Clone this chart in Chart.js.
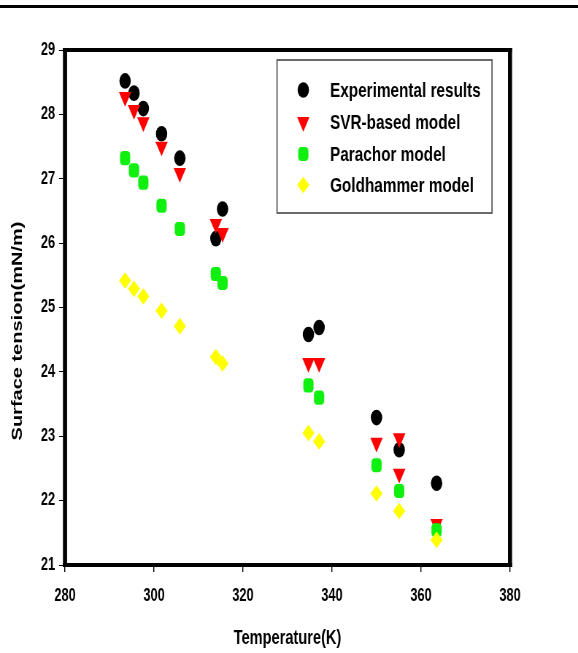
<!DOCTYPE html>
<html>
<head>
<meta charset="utf-8">
<script src="https://cdn.jsdelivr.net/npm/chart.js@4.4.1/dist/chart.umd.min.js"></script>
<style>
html, body { margin: 0; padding: 0; background: #ffffff; overflow: hidden; }
#wrap { position: absolute; left: 0; top: 0; width: 792px; height: 653px;
        transform: scaleX(0.72980); transform-origin: 0 0; }
</style>
</head>
<body>
<div id="wrap"><canvas id="c"></canvas></div>
<script>
// ---- data ----
const temperatures    = [293.5, 295.5, 297.6, 301.7, 305.8, 313.9, 315.4, 334.7, 337.1, 350.0, 355.1, 355.1, 363.5];
const experimental    = [28.52, 28.33, 28.09, 27.70, 27.32, 26.07, 26.53, 24.58, 24.69, 23.29, 22.79, null, 22.27];
const svrModel        = [28.27, 28.07, 27.88, 27.50, 27.09, 26.30, 26.16, 24.14, 24.14, 22.90, 22.97, 22.42, 21.64];
const parachorModel   = [27.32, 27.13, 26.94, 26.58, 26.22, 25.52, 25.38, 23.79, 23.60, 22.55, 22.15, null, 21.54];
const goldhammerModel = [25.42, 25.29, 25.17, 24.95, 24.71, 24.23, 24.13, 23.05, 22.92, 22.11, 21.84, null, 21.39];
const seriesNames = ['Experimental results', 'SVR-based model', 'Parachor model', 'Goldhammer model'];
const xTickValues = [280, 300, 320, 340, 360, 380];
const yTickValues = [21, 22, 23, 24, 25, 26, 27, 28, 29];
const xTitle = 'Temperature(K)';
const yTitle = 'Surface tension(mN/m)';

// ---- layout (internal canvas coords; the canvas is squeezed horizontally) ----
const W = 792, H = 653, SX = 578 / 792;
const AREA_LEFT = 65 / SX, AREA_RIGHT = 510 / SX, AREA_TOP = 50, AREA_BOTTOM = 565;
const FONT = '"Liberation Sans", Arial, sans-serif';

function pts(vals) {
  return temperatures.map((t, i) => ({ x: t, y: vals[i] })).filter(p => p.y !== null);
}

const datasets = [
  { label: seriesNames[0], data: pts(experimental), order: 4,
    pointStyle: 'circle', pointRadius: 7.8, pointRotation: 0,
    backgroundColor: '#000000', borderColor: '#000000', pointBorderWidth: 0 },
  { label: seriesNames[1], data: pts(svrModel), order: 3,
    pointStyle: 'triangle', pointRadius: 9.8, pointRotation: 180,
    backgroundColor: '#ff0000', borderColor: '#ff0000', pointBorderWidth: 0 },
  { label: seriesNames[2], data: pts(parachorModel), order: 2,
    pointStyle: 'rectRounded', pointRadius: 8.2, pointRotation: 0,
    backgroundColor: '#10f010', borderColor: '#10f010', pointBorderWidth: 0 },
  { label: seriesNames[3], data: pts(goldhammerModel), order: 1,
    pointStyle: 'rectRot', pointRadius: 8.3, pointRotation: 0,
    backgroundColor: '#ffff00', borderColor: '#ffff00', pointBorderWidth: 0 }
];

const framePlugin = {
  id: 'frameAndLegend',
  afterDraw(chart) {
    const ctx = chart.ctx, a = chart.chartArea;
    ctx.save();
    ctx.fillStyle = '#000000';
    // page rule at the very top
    ctx.fillRect(0, 5, chart.width, 3);
    // thick frame around the plot area
    const hx = 2.8, hy = 2;
    ctx.fillRect(a.left - hx, a.top - hy, a.right - a.left + 2 * hx, 2 * hy);
    ctx.fillRect(a.left - hx, a.bottom - hy, a.right - a.left + 2 * hx, 2 * hy);
    ctx.fillRect(a.left - hx, a.top - hy, 2 * hx, a.bottom - a.top + 2 * hy);
    ctx.fillRect(a.right - hx, a.top - hy, 2 * hx, a.bottom - a.top + 2 * hy);
    // y axis title
    ctx.save();
    ctx.translate(24.7, 331);
    ctx.rotate(-Math.PI / 2);
    ctx.font = 'bold 20px ' + FONT;
    ctx.textAlign = 'center';
    ctx.textBaseline = 'middle';
    ctx.fillText(yTitle, 0, 0);
    ctx.restore();
    // legend box
    const bx0 = 277 / SX, bx1 = 492 / SX, by0 = 60, by1 = 213;
    ctx.strokeStyle = '#5a5a5a';
    ctx.lineWidth = 1.8;
    ctx.strokeRect(bx0, by0, bx1 - bx0, by1 - by0);
    const rows = [90, 122, 154, 185];
    const mx = 303.3 / SX, tx = 330 / SX;
    ctx.font = 'bold 21px ' + FONT;
    ctx.textAlign = 'left';
    ctx.textBaseline = 'middle';
    datasets.forEach((ds, i) => {
      ctx.fillStyle = ds.backgroundColor;
      Chart.helpers.drawPoint(ctx, { pointStyle: ds.pointStyle, radius: ds.pointRadius,
        rotation: ds.pointRotation, borderWidth: 0 }, mx, rows[i]);
      ctx.fillStyle = '#000000';
      ctx.fillText(ds.label, tx, rows[i] + 1);
    });
    ctx.restore();
  }
};

new Chart(document.getElementById('c'), {
  type: 'scatter',
  data: { datasets },
  options: {
    responsive: true,
    maintainAspectRatio: false,
    devicePixelRatio: 1,
    animation: false,
    events: [],
    layout: { autoPadding: false, padding: { left: 0, right: W - AREA_RIGHT, top: AREA_TOP, bottom: 0 } },
    plugins: { legend: { display: false }, tooltip: { enabled: false } },
    scales: {
      x: {
        type: 'linear',
        min: xTickValues[0], max: xTickValues[xTickValues.length - 1],
        afterBuildTicks: s => { s.ticks = xTickValues.map(v => ({ value: v })); },
        afterFit: s => { s.height = H - AREA_BOTTOM; },
        border: { display: false },
        grid: { display: true, drawOnChartArea: false, drawTicks: true, tickLength: 7, color: '#000000', lineWidth: 1.4 },
        ticks: { color: '#000000', padding: 13.5, font: { family: FONT, size: 17.5, weight: 'bold' }, maxRotation: 0 },
        title: { display: true, text: xTitle, color: '#000000', padding: { top: 0, bottom: 3 },
                 font: { family: FONT, size: 20, weight: 'bold' } }
      },
      y: {
        type: 'linear',
        min: yTickValues[0], max: yTickValues[yTickValues.length - 1],
        afterBuildTicks: s => { s.ticks = yTickValues.map(v => ({ value: v })); },
        afterFit: s => { s.width = AREA_LEFT; },
        border: { display: false },
        grid: { display: true, drawOnChartArea: false, drawTicks: true, tickLength: 8.2, color: '#000000', lineWidth: 1 },
        ticks: { color: '#000000', padding: 5.4, font: { family: FONT, size: 17.5, weight: 'bold' } }
      }
    }
  },
  plugins: [framePlugin]
});
</script>
</body>
</html>
